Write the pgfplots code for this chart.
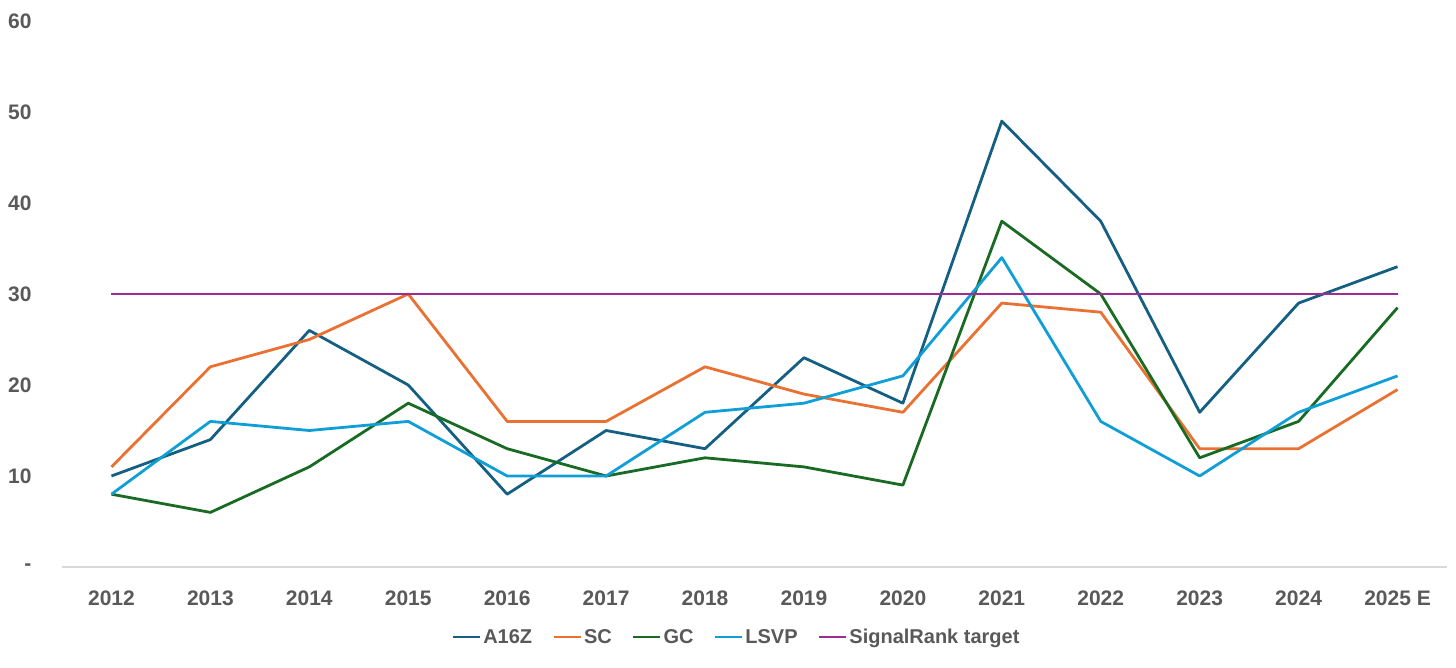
\documentclass[border=0pt]{standalone}
\usepackage{pgfplots}
\pgfplotsset{compat=1.18}
\usepackage{fontspec}
\setmainfont{Liberation Sans}
\definecolor{cA}{HTML}{156082}
\definecolor{cSC}{HTML}{E97132}
\definecolor{cGC}{HTML}{196B24}
\definecolor{cLS}{HTML}{0F9ED5}
\definecolor{cTG}{HTML}{A02B93}
\definecolor{txt}{HTML}{595959}
\begin{document}
\begin{tikzpicture}
\begin{axis}[
    at={(0,0)}, anchor=south west,
    scale only axis,
    width=1385pt, height=546pt,
    xmin=-0.5, xmax=13.5,
    ymin=0, ymax=60,
    xtick={0,...,13},
    xticklabels={2012,2013,2014,2015,2016,2017,2018,2019,2020,2021,2022,2023,2024,2025 E},
    ytick={0,10,20,30,40,50,60},
    yticklabels={-,10,20,30,40,50,60},
    axis x line=bottom, axis y line=left,
    x axis line style={draw=black!15, line width=1.2pt, -},
    y axis line style={draw=none},
    major tick length=0pt,
    ticklabel style={font=\bfseries\fontsize{21}{24}\selectfont, text=txt},
    y tick label style={anchor=east, xshift=-27pt},
    x tick label style={anchor=north, yshift=-20pt},
    every axis plot/.append style={line width=2.8pt, mark=none, line join=round},
    legend columns=5,
    legend style={draw=none, at={(0.487,0)}, anchor=center, yshift=-70pt,
        font=\bfseries\fontsize{20}{23}\selectfont, text=txt,
        /tikz/every even column/.append style={column sep=18pt},
        inner sep=0pt},
    legend image code/.code={\draw[#1, line width=2.8pt] (0pt,0pt) -- (27pt,0pt);},
]
\addplot[cA] coordinates {(0,10)(1,14)(2,26)(3,20)(4,8)(5,15)(6,13)(7,23)(8,18)(9,49)(10,38)(11,17)(12,29)(13,33)};
\addplot[cSC] coordinates {(0,11)(1,22)(2,25)(3,30)(4,16)(5,16)(6,22)(7,19)(8,17)(9,29)(10,28)(11,13)(12,13)(13,19.5)};
\addplot[cGC] coordinates {(0,8)(1,6)(2,11)(3,18)(4,13)(5,10)(6,12)(7,11)(8,9)(9,38)(10,30)(11,12)(12,16)(13,28.5)};
\addplot[cLS] coordinates {(0,8)(1,16)(2,15)(3,16)(4,10)(5,10)(6,17)(7,18)(8,21)(9,34)(10,16)(11,10)(12,17)(13,21)};
\addplot[cTG] coordinates {(0,30)(1,30)(2,30)(3,30)(4,30)(5,30)(6,30)(7,30)(8,30)(9,30)(10,30)(11,30)(12,30)(13,30)};
\legend{A16Z,SC,GC,LSVP,SignalRank target}
\end{axis}
\path[use as bounding box] (-62pt,-100pt) rectangle (1394pt,567pt);
\end{tikzpicture}
\end{document}
